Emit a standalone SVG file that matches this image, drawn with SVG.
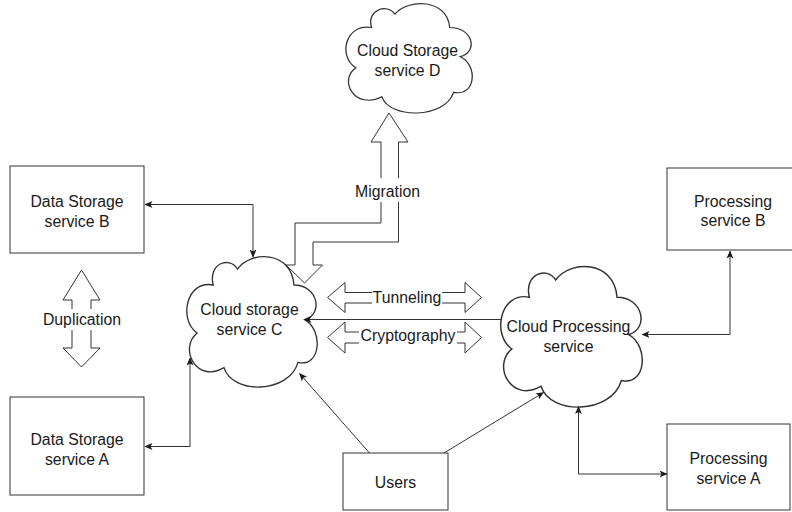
<svg xmlns="http://www.w3.org/2000/svg" width="792" height="512" viewBox="0 0 792 512">
  <style>
    .shape { fill: #ffffff; stroke: #333333; stroke-width: 1; }
    .cloud { fill: #ffffff; stroke: #333333; stroke-width: 1; vector-effect: non-scaling-stroke; }
    .edge { fill: none; stroke: #333333; stroke-width: 1; }
    .block { fill: #ffffff; stroke: #333333; stroke-width: 1; stroke-linejoin: miter; }
    .t { font-family: "Liberation Sans", Arial, sans-serif; font-size: 15.8px; fill: #1a1a1a; text-anchor: middle; }
    .bg { fill: #ffffff; stroke: none; }
  </style>
  <defs>
    <!-- cloud outline with seven rounded lobes, drawn in a 100x100 box -->
    <path id="cloudPath" d="M 22 22 C 18 6, 34 0, 40 10 C 50 -4, 80 -4, 82 22 C 100 22, 104 44, 90 48 C 104 56, 102 84, 85 80 C 78 104, 36 104, 30 84 C 10 96, -4 70, 10 58 C -4 48, 2 18, 22 22 Z"/>
    <marker id="arrow" viewBox="0 0 8 7" markerUnits="userSpaceOnUse" markerWidth="8" markerHeight="7" refX="7.5" refY="3.5" orient="auto-start-reverse">
      <path d="M 0 0 L 8 3.5 L 0 7 L 2 3.5 Z" fill="#1a1a1a"/>
    </marker>
  </defs>

  <rect width="792" height="512" fill="#ffffff"/>

  <!-- nodes -->
  <g id="cloud-storage-d">
    <use href="#cloudPath" class="cloud" transform="translate(342.8 2.9) scale(1.304 1.118)"/>
    <text class="t" x="407.5" y="56">Cloud Storage</text>
    <text class="t" x="407.5" y="76">service D</text>
  </g>

  <g id="cloud-storage-c">
    <use href="#cloudPath" class="cloud" transform="translate(183.6 255.7) scale(1.346 1.333)"/>
    <text class="t" x="249.5" y="315">Cloud storage</text>
    <text class="t" x="249.5" y="335">service C</text>
  </g>

  <g id="cloud-processing">
    <use href="#cloudPath" class="cloud" transform="translate(497.25 265.6) scale(1.461 1.436)"/>
    <text class="t" x="568.5" y="332">Cloud Processing</text>
    <text class="t" x="568.5" y="352">service</text>
  </g>

  <g id="data-storage-b">
    <rect class="shape" x="10" y="166" width="134" height="87"/>
    <text class="t" x="77" y="206.5">Data Storage</text>
    <text class="t" x="77" y="226.5">service B</text>
  </g>

  <g id="data-storage-a">
    <rect class="shape" x="10" y="397" width="134" height="98"/>
    <text class="t" x="77" y="445">Data Storage</text>
    <text class="t" x="77" y="465">service A</text>
  </g>

  <g id="processing-b">
    <rect class="shape" x="667" y="168" width="133" height="82"/>
    <text class="t" x="733" y="206.5">Processing</text>
    <text class="t" x="733" y="226">service B</text>
  </g>

  <g id="processing-a">
    <rect class="shape" x="667" y="424" width="123" height="86"/>
    <text class="t" x="728.5" y="464">Processing</text>
    <text class="t" x="728.5" y="483.5">service A</text>
  </g>

  <g id="users">
    <rect class="shape" x="343" y="453" width="105" height="57"/>
    <text class="t" x="395.5" y="488">Users</text>
  </g>

  <!-- connectors -->
  <g id="connectors">
    <path class="edge" d="M 145 204.5 H 253 V 257" marker-start="url(#arrow)" marker-end="url(#arrow)"/>
    <path class="edge" d="M 145 446.5 H 190 V 358" marker-start="url(#arrow)" marker-end="url(#arrow)"/>
    <path class="edge" d="M 730 251 V 334.5 H 642" marker-start="url(#arrow)" marker-end="url(#arrow)"/>
    <path class="edge" d="M 667 474 H 578.5 V 406.5" marker-start="url(#arrow)" marker-end="url(#arrow)"/>
    <path class="edge" d="M 369.5 453 L 299.5 373.5" marker-end="url(#arrow)"/>
    <path class="edge" d="M 444 453 L 543.5 392.5" marker-end="url(#arrow)"/>
    <path class="edge" d="M 502 319.5 H 304" marker-end="url(#arrow)"/>

    <!-- Migration: block arrow from C up to D -->
    <g id="migration">
      <path class="block" d="M 389 113 L 408 142 L 398.5 142 L 398.5 242 L 313 242 L 313 265 L 322.5 265 L 304.5 283 L 286 265 L 295 265 L 295 223 L 381 223 L 381 142 L 371 142 Z"/>
      <rect class="bg" x="354" y="178" width="67" height="24"/>
      <text class="t" x="387.5" y="196.5">Migration</text>
    </g>

    <!-- Duplication: vertical double block arrow -->
    <g id="duplication">
      <path class="block" d="M 81.5 270 L 100 300 L 91 300 L 91 348 L 100 348 L 81.5 367 L 63 348 L 72 348 L 72 300 L 63 300 Z"/>
      <rect class="bg" x="42" y="309" width="80" height="21"/>
      <text class="t" x="82" y="325">Duplication</text>
    </g>

    <!-- Tunneling: horizontal double block arrow -->
    <g id="tunneling">
      <path class="block" d="M 327.5 297.5 L 345 282.5 L 345 292.5 L 465 292.5 L 465 282.5 L 481.5 297.5 L 465 312.5 L 465 303 L 345 303 L 345 312.5 Z"/>
      <rect class="bg" x="372" y="288" width="70" height="19"/>
      <text class="t" x="407" y="303">Tunneling</text>
    </g>

    <!-- Cryptography: horizontal double block arrow -->
    <g id="cryptography">
      <path class="block" d="M 327.5 337.5 L 345 322 L 345 332 L 465 332 L 465 322 L 481.5 337.5 L 465 353 L 465 343 L 345 343 L 345 353 Z"/>
      <rect class="bg" x="359" y="327" width="98" height="19"/>
      <text class="t" x="408" y="341">Cryptography</text>
    </g>
  </g>
</svg>
